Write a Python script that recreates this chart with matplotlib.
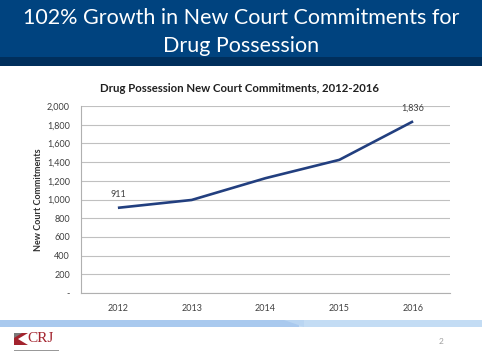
import numpy as np
import matplotlib
matplotlib.use("Agg")
import matplotlib.pyplot as plt
from matplotlib.patches import Rectangle, Polygon
from matplotlib.ticker import FuncFormatter

# chart data
years = ["2012", "2013", "2014", "2015", "2016"]
commitments = [911, 995, 1228, 1424, 1836]
labelled = {0: "911", 4: "1,836"}

slide_title = "102% Growth in New Court Commitments for\nDrug Possession"
chart_title = "Drug Possession New Court Commitments, 2012-2016"
y_label = "New Court Commitments"

plt.rcParams["font.family"] = ["Lato", "DejaVu Sans"]

fig = plt.figure(figsize=(4.82, 3.62), dpi=100)
W, H = 482, 362

# header band
fig.patches.append(Rectangle((0, 1 - 57 / H), 1, 57 / H, transform=fig.transFigure,
                             facecolor="#00437f", edgecolor="none", zorder=0))
fig.patches.append(Rectangle((0, 1 - 66 / H), 1, 9 / H, transform=fig.transFigure,
                             facecolor="#002f5c", edgecolor="none", zorder=0))
fig.text(0.5, 1 - 32 / H, slide_title, color="white", fontsize=15.5,
         ha="center", va="center", linespacing=1.45)

# footer band (two tones)
fig.patches.append(Rectangle((0, 1 - 327 / H), 0.62, 7 / H, transform=fig.transFigure,
                             facecolor="#a9c9ee", edgecolor="none"))
fig.patches.append(Rectangle((0.62, 1 - 327 / H), 0.38, 7 / H, transform=fig.transFigure,
                             facecolor="#c3dcf4", edgecolor="none"))
fig.patches.append(Polygon([(0.59, 1 - 320 / H), (0.63, 1 - 320 / H), (0.63, 1 - 327 / H)],
                           closed=True, transform=fig.transFigure,
                           facecolor="#b9d5f2", edgecolor="none"))

# CRJ logo
fig.patches.append(Polygon([(14 / W, 1 - 333 / H), (28 / W, 1 - 333 / H), (18 / W, 1 - 339 / H),
                            (28 / W, 1 - 345 / H), (14 / W, 1 - 345 / H)],
                           closed=True, transform=fig.transFigure,
                           facecolor="#a3242e", edgecolor="none"))
fig.patches.append(Polygon([(14 / W, 1 - 333 / H), (22 / W, 1 - 333 / H), (14 / W, 1 - 338 / H)],
                           closed=True, transform=fig.transFigure,
                           facecolor="#7a7a7a", edgecolor="none"))
fig.text(27 / W, 1 - 339 / H, "CRJ", color="#a3242e", fontsize=11,
         family=["Liberation Serif"], ha="left", va="center")
fig.patches.append(Rectangle((14 / W, 1 - 351 / H), 45 / W, 0.6 / H, transform=fig.transFigure,
                             facecolor="#999999", edgecolor="none"))
fig.text(441 / W, 1 - 342 / H, "2", color="#a0a0a0", fontsize=6, ha="center", va="center")

# chart
ax = fig.add_axes([81 / W, 1 - 293 / H, 369 / W, 187 / H])
x = np.arange(len(years))
ax.plot(x, commitments, color="#223f7f", linewidth=1.9, solid_capstyle="butt", zorder=3)
for i, txt in labelled.items():
    ax.annotate(txt, (x[i], commitments[i]), xytext=(0, 6), textcoords="offset points",
                ha="center", va="bottom", fontsize=6.5, color="#404040")

ax.set_xlim(-0.5, len(years) - 0.5)
ax.set_ylim(0, 2000)
ax.set_yticks(np.arange(0, 2001, 200))
ax.yaxis.set_major_formatter(FuncFormatter(lambda v, p: "-" if v == 0 else f"{int(v):,}"))
ax.set_xticks(x)
ax.set_xticklabels(years)
ax.grid(axis="y", color="#c0c0c0", linewidth=0.8)
ax.set_axisbelow(True)
for s in ["top", "right"]:
    ax.spines[s].set_visible(False)
for s in ["left", "bottom"]:
    ax.spines[s].set_color("#b0b0b0")
    ax.spines[s].set_linewidth(0.8)
ax.tick_params(length=0, labelsize=6.5, labelcolor="#404040")
ax.tick_params(axis="y", pad=8)
ax.tick_params(axis="x", pad=8)
ax.set_ylabel(y_label, fontsize=6.5, fontweight="bold", color="#303030", labelpad=3)
fig.text(240 / W, 1 - 88 / H, chart_title, fontsize=8.2, fontweight="bold",
         color="#202020", ha="center", va="center")

fig.savefig("out.png", dpi=100)
